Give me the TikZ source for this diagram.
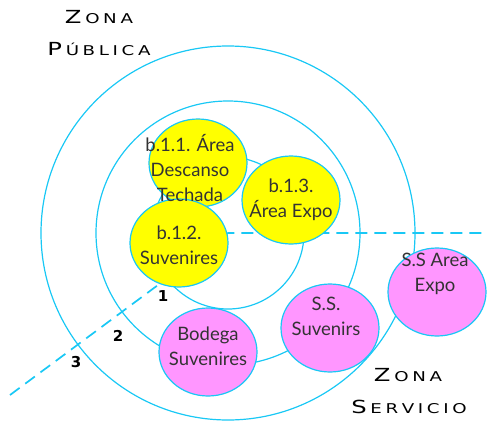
\documentclass[tikz,border=0pt]{standalone}
\usepackage{fontspec}
\setmainfont{Lato}
\newfontfamily\zonafont{DejaVu Sans}
\newfontfamily\numfont{DejaVu Sans}
\usepackage{tikz}
\usetikzlibrary{shapes.geometric,positioning}
\definecolor{ringblue}{RGB}{25,200,245}
\definecolor{zoneyellow}{RGB}{255,255,0}
\definecolor{zonepink}{RGB}{255,150,255}
\newcommand\Zbig[1]{{\fontsize{18}{18}\selectfont #1}\kern2.7pt}
\newcommand\Zg{\kern2.7pt}
\tikzset{
  ring/.style={circle,draw=ringblue,line width=1.2pt,inner sep=0pt},
  zone/.style={ellipse,draw=ringblue,line width=1.2pt,inner sep=0pt,minimum width=98pt,minimum height=88pt},
  zonetext/.style={align=center,inner sep=0pt,text=black!80,font=\fontsize{18.5}{25}\selectfont},
  zonetitle/.style={inner sep=0pt,transform shape,xscale=1.35,font=\zonafont\fontsize{13.5}{13.5}\selectfont},
  ringnum/.style={inner sep=0pt,font=\numfont\bfseries\fontsize{15}{15}\selectfont},
  split/.style={draw=ringblue,line width=1.7pt,dash pattern=on 12pt off 7pt}
}
\begin{document}
\begin{tikzpicture}[x=1pt,y=-1pt]
  \useasboundingbox (0,0) rectangle (487,423);
  % rings 1,2,3 round the same centre
  \foreach \d/\n in {152/1,264/2,374/3} \node[ring,minimum size=\d pt] (ring\n) at (228,233) {};
  % dashed split between public and service zone
  \coordinate (splitL) at (10,395);
  \coordinate (splitR) at (487,233);
  \draw[split] (splitL) -- (ring1.center) -- (splitR);
  \node[ringnum] (num1) at (163,296) {1};
  \node[ringnum] (num2) at (118,336) {2};
  \node[ringnum] (num3) at (76,362) {3};
  % public zone (yellow) and service zone (pink)
  \node[zone,fill=zoneyellow] (b11) at (198,163) {};
  \node[zone,fill=zoneyellow] (b13) at (291,200) {};
  \node[zone,fill=zoneyellow] (b12) at (179,243) {};
  \node[zone,fill=zonepink] (bod) at (208,352) {};
  \node[zone,fill=zonepink] (ssuv) at (330,328) {};
  \node[zone,fill=zonepink] (sexp) at (437,292) {};
  \node[zonetext] at ([shift={(-8pt,-5pt)}]b11.center) {b.1.1. Área\\Descanso\\Techada};
  \node[zonetext] at (b13.center) {b.1.3.\\Área Expo};
  \node[zonetext] at ([shift={(0pt,-2pt)}]b12.center) {b.1.2.\\Suvenires};
  \node[zonetext] at ([shift={(0pt,6pt)}]bod.center) {Bodega\\Suvenires};
  \node[zonetext] at ([shift={(-4pt,12pt)}]ssuv.center) {S.S.\\Suvenirs};
  \node[zonetext] at ([shift={(-2pt,18pt)}]sexp.center) {S.S Area\\Expo};
  % zone titles
  \node[zonetitle] (pub1) at (99,17) {\Zbig{Z}O\Zg N\Zg A};
  \node[zonetitle] (pub2) at (99,49) {\Zbig{P}Ú\Zg B\Zg L\Zg I\Zg C\Zg A};
  \node[zonetitle] (ser1) at (408,375) {\Zbig{Z}O\Zg N\Zg A};
  \node[zonetitle] (ser2) at (409,407) {\Zbig{S}E\Zg R\Zg V\Zg I\Zg C\Zg I\Zg O};
\end{tikzpicture}
\end{document}
